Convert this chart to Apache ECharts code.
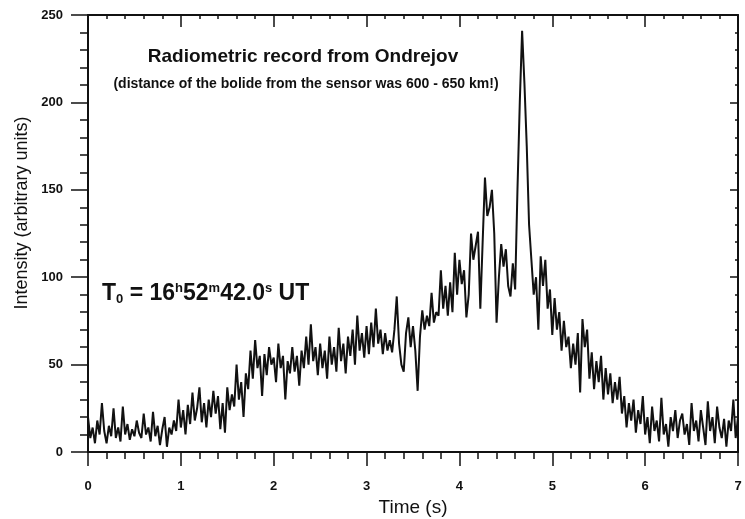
<!DOCTYPE html>
<html>
<head>
<meta charset="utf-8">
<script src="https://cdn.jsdelivr.net/npm/echarts@6/dist/echarts.min.js"></script>
<style>
html,body{margin:0;padding:0;background:#fff;}
#chart{width:745px;height:519px;}
</style>
</head>
<body>
<div id="chart"></div>
<script>
// sample spacing of the radiometric record (s)
const timeStep = 0.025;
// intensity, one value every 0.025 s from 0 to 7 s
const intensity = [
  20, 8, 14, 5,   18, 10, 28, 12,   5, 15, 9, 25,   8, 14, 6, 26,   10, 16, 7, 13,
  9, 18, 11, 8,   22, 10, 14, 6,   23, 9, 15, 4,   13, 20, 3, 14,   10, 18, 12, 30,
  14, 24, 10, 27,   16, 34, 18, 25,   37, 17, 28, 14,   30, 20, 35, 22,   32, 13, 28, 11,
  37, 24, 33, 26,   50, 30, 40, 20,   45, 36, 58, 42,   64, 48, 55, 32,   56, 44, 60, 50,
  54, 40, 62, 48,   55, 30, 52, 45,   60, 46, 55, 38,   58, 48, 66, 50,   73, 52, 60, 44,
  62, 48, 58, 42,   66, 50, 60, 46,   71, 52, 62, 45,   66, 55, 70, 50,   78, 58, 68, 54,
  72, 56, 74, 60,   82, 62, 70, 56,   68, 58, 64, 57,   70, 89, 62, 50,   46, 68, 77, 60,
  72, 58, 35, 66,   81, 70, 78, 72,   91, 74, 80, 78,   104, 82, 95, 78,   97, 80, 114, 90,
  110, 96, 104, 77,   90, 125, 110, 118,   126, 82, 120, 157,   135, 140, 150, 125,   74, 100, 119, 106,
  116, 95, 89, 108,   93, 150, 200, 241,   211, 175, 130, 110,   90, 100, 70, 112,   95, 110, 82, 93,
  67, 88, 70, 80,   58, 75, 60, 66,   48, 62, 50, 68,   34, 76, 60, 70,   42, 57, 36, 52,
  40, 55, 30, 48,   33, 45, 28, 40,   30, 43, 22, 32,   14, 28, 18, 30,   11, 24, 16, 32,
  10, 20, 5, 26,   12, 18, 6, 31,   10, 16, 3, 20,   12, 24, 8, 18,   22, 10, 16, 4,
  28, 12, 18, 6,   24, 14, 4, 29,   12, 20, 5, 26,   14, 8, 19, 3,   18, 12, 30, 8,
  20
];
const xTicks = [0, 1, 2, 3, 4, 5, 6, 7];
const yTicks = [0, 50, 100, 150, 200, 250];

const seriesData = intensity.map((v, i) => [+(i * timeStep).toFixed(3), v]);

const FF = 'Liberation Sans, Arial, sans-serif';
const chart = echarts.init(document.getElementById('chart'), null, {renderer: 'canvas'});
const axisFont = {fontFamily: FF, fontWeight: 'bold', fontSize: 13, color: '#111'};

chart.setOption({
  animation: false,
  backgroundColor: '#ffffff',
  title: [{
    text: 'Radiometric record from Ondrejov',
    left: 298, top: 42, textAlign: 'center',
    textStyle: {fontFamily: FF, fontWeight: 'bold', fontSize: 19, color: '#111'}
  }, {
    text: '(distance of the bolide from the sensor was 600 - 650 km!)',
    left: 301, top: 72, textAlign: 'center',
    textStyle: {fontFamily: FF, fontWeight: 'bold', fontSize: 14, color: '#111'}
  }],
  graphic: [{
    type: 'text', left: 102, top: 282,
    style: {
      rich: {
        b: {fontFamily: FF, fontWeight: 'bold', fontSize: 23, fill: '#111'},
        sub: {fontFamily: FF, fontWeight: 'bold', fontSize: 13, fill: '#111', verticalAlign: 'bottom', padding: [11, 0, 0, 0]},
        sup: {fontFamily: FF, fontWeight: 'bold', fontSize: 13, fill: '#111', verticalAlign: 'top', padding: [0, 0, 11, 0]}
      },
      text: '{b|T}{sub|0}{b| = 16}{sup|h}{b|52}{sup|m}{b|42.0}{sup|s}{b| UT}'
    }
  }, {
    type: 'text', x: 22, y: 213, rotation: Math.PI / 2,
    style: {
      text: 'Intensity (arbitrary units)', fontFamily: FF, fontSize: 18, fill: '#111',
      align: 'center', verticalAlign: 'middle'
    }
  }],
  grid: {left: 88, right: 7, top: 15, bottom: 67, outerBoundsMode: 'none', containLabel: false},
  xAxis: [{
    type: 'value', min: 0, max: 7, interval: 1, position: 'bottom',
    name: 'Time (s)', nameLocation: 'middle', nameGap: 46,
    nameTextStyle: {fontFamily: FF, fontSize: 19, color: '#111'},
    axisLine: {show: true, onZero: false, lineStyle: {color: '#111', width: 2}},
    axisTick: {show: true, inside: false, length: 14, lineStyle: {color: '#111', width: 1.5}},
    minorTick: {show: true, splitNumber: 5, length: 7, lineStyle: {color: '#111', width: 1.5}},
    axisLabel: Object.assign({margin: 28, formatter: v => xTicks.includes(v) ? String(v) : ''}, axisFont),
    splitLine: {show: false}
  }, {
    type: 'value', min: 0, max: 7, interval: 1, position: 'top',
    axisLine: {show: true, onZero: false, lineStyle: {color: '#111', width: 2}},
    axisTick: {show: true, inside: true, length: 12, lineStyle: {color: '#111', width: 1.5}},
    minorTick: {show: true, splitNumber: 5, length: 4, lineStyle: {color: '#111', width: 1.5}},
    axisLabel: {show: false}, splitLine: {show: false}
  }],
  yAxis: [{
    type: 'value', min: 0, max: 250, interval: 50, position: 'left',
    axisLine: {show: true, onZero: false, lineStyle: {color: '#111', width: 2}},
    axisTick: {show: true, inside: false, length: 17, lineStyle: {color: '#111', width: 1.5}},
    minorTick: {show: true, splitNumber: 5, length: 8, lineStyle: {color: '#111', width: 1.5}},
    axisLabel: Object.assign({margin: 25, formatter: v => yTicks.includes(v) ? String(v) : ''}, axisFont),
    splitLine: {show: false}
  }, {
    type: 'value', min: 0, max: 250, interval: 50, position: 'right',
    axisLine: {show: true, onZero: false, lineStyle: {color: '#111', width: 2}},
    axisTick: {show: true, inside: true, length: 8, lineStyle: {color: '#111', width: 1.5}},
    minorTick: {show: true, splitNumber: 5, length: 3, lineStyle: {color: '#111', width: 1.5}},
    axisLabel: {show: false}, splitLine: {show: false}
  }],
  series: [{
    type: 'line', xAxisIndex: 0, yAxisIndex: 0,
    data: seriesData, showSymbol: false, symbol: 'none',
    lineStyle: {color: '#111', width: 2}
  }]
});
</script>
</body>
</html>
